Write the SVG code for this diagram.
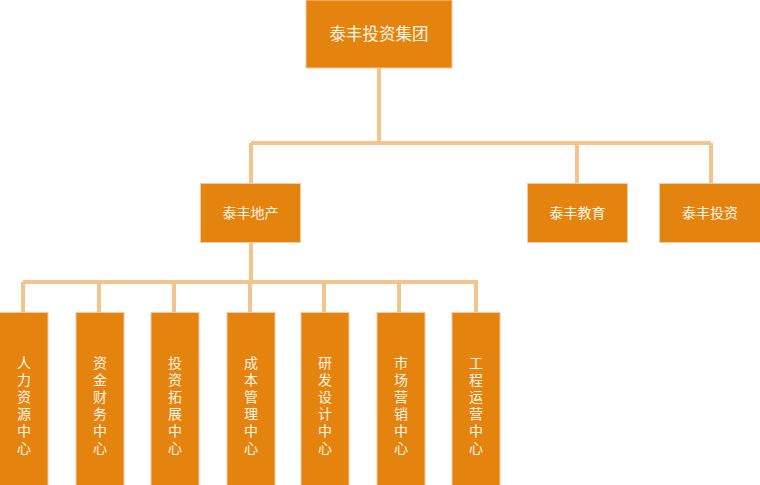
<svg xmlns="http://www.w3.org/2000/svg" width="760" height="485" viewBox="0 0 760 485">
<style>
.box{fill:#E4840F;stroke:#F2C9A0;stroke-width:1}
.t{fill:#FFF3E6;font-family:"Noto Sans CJK SC","Noto Sans",sans-serif;font-size:14px;text-anchor:middle}
.big{font-size:16.5px}
.v{writing-mode:vertical-rl;letter-spacing:3px}
.c{fill:none;stroke:#F4C48E;stroke-width:4}
</style>
<g id="connectors">
<path class="c" d="M379 68V143M251 143H711M251 143V183M577 143V183M711 143V183"/>
<path class="c" d="M251 243V282M23 282H478M23 282V312M99 282V312M174 282V312M250 282V312M324 282V312M399 282V312M476 282V312"/>
</g>
<g id="n0"><rect class="box" x="306" y="0" width="146" height="68"/><text class="t big" x="379" y="40">泰丰投资集团</text></g>
<g id="n1"><rect class="box" x="200.5" y="183.5" width="100" height="59"/><text class="t" x="250.5" y="218">泰丰地产</text></g>
<g id="n2"><rect class="box" x="527.5" y="183.5" width="100" height="59"/><text class="t" x="577.5" y="218">泰丰教育</text></g>
<g id="n3"><rect class="box" x="659.5" y="183.5" width="101" height="59"/><text class="t" x="710" y="218">泰丰投资</text></g>
<g id="m1"><rect class="box" x="-1" y="312.5" width="49" height="175"/><text class="t v" x="24" y="407">人力资源中心</text></g>
<g id="m2"><rect class="box" x="76" y="312.5" width="48" height="175"/><text class="t v" x="100" y="407">资金财务中心</text></g>
<g id="m3"><rect class="box" x="151" y="312.5" width="48" height="175"/><text class="t v" x="175" y="407">投资拓展中心</text></g>
<g id="m4"><rect class="box" x="227" y="312.5" width="48" height="175"/><text class="t v" x="251" y="407">成本管理中心</text></g>
<g id="m5"><rect class="box" x="301" y="312.5" width="48" height="175"/><text class="t v" x="325" y="407">研发设计中心</text></g>
<g id="m6"><rect class="box" x="377" y="312.5" width="48" height="175"/><text class="t v" x="401" y="407">市场营销中心</text></g>
<g id="m7"><rect class="box" x="452" y="312.5" width="48" height="175"/><text class="t v" x="476" y="407">工程运营中心</text></g>
</svg>
